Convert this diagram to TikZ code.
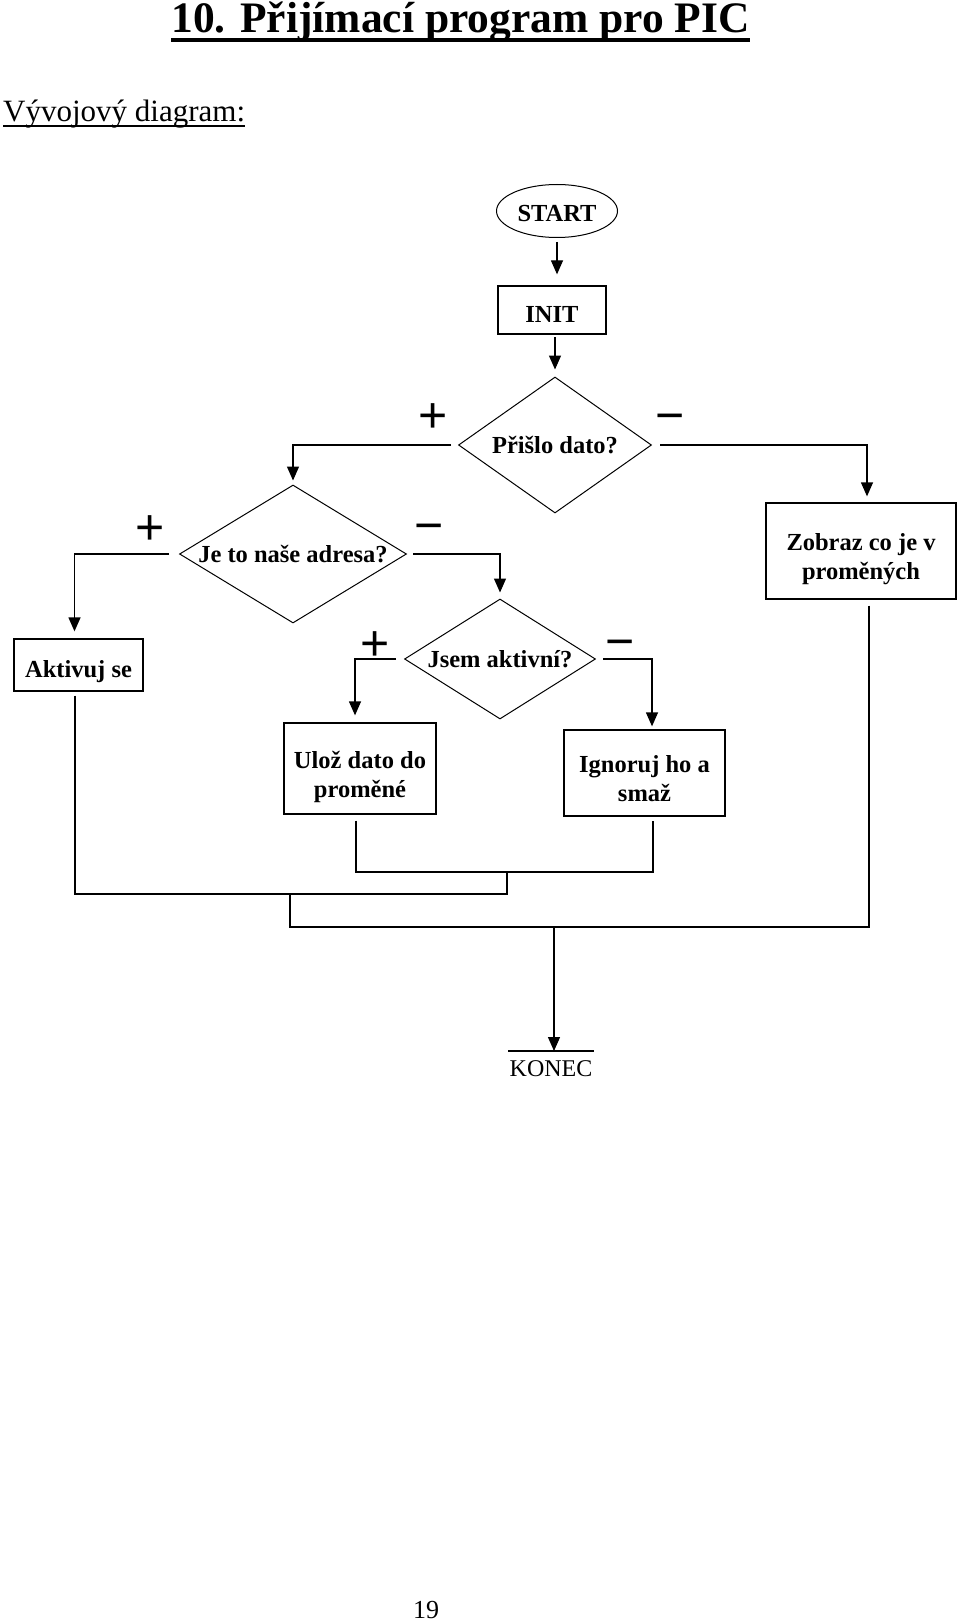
\documentclass[tikz,border=0pt]{standalone}
\usepackage{fontspec}
\setmainfont{Liberation Serif}
\newfontfamily\signfont{Liberation Sans}
\usetikzlibrary{shapes.geometric,arrows.meta}
\begin{document}
\begin{tikzpicture}[x=1pt,y=-1pt,
  conn/.style={line width=1.3pt},
  arr/.style={conn,-{Triangle[width=12pt,length=14pt]}},
  dfont/.style={font=\fontsize{24.5}{29}\selectfont\bfseries},
  box/.style={draw,line width=1.3pt,inner sep=0pt,align=center,dfont},
  one/.style={text height=28pt,text depth=4pt},
  two/.style={text height=57pt,text depth=0pt},
  dia/.style={draw,diamond,line width=1pt,inner sep=0pt,dfont},
  sign/.style={font=\signfont\fontsize{50}{50}\selectfont,inner sep=0pt}
]
\useasboundingbox (0,0) rectangle (960,1621);

% headings
\node[anchor=base,inner sep=0pt,font=\fontsize{43.5}{50}\selectfont\bfseries] (title) at (460.5,33) {10. Přijímací program pro PIC};
\draw[line width=3.5pt] ([yshift=-7pt]title.base west) -- ([yshift=-7pt]title.base east);
\node[anchor=base west,inner sep=0pt,font=\fontsize{31}{36}\selectfont] (sub) at (3,121.5) {Vývojový diagram:};
\draw[line width=1.6pt] ([yshift=-4.5pt]sub.base west) -- ([yshift=-4.5pt]sub.base east);
\node[anchor=base,inner sep=0pt,font=\fontsize{26}{30}\selectfont] (page) at (426,1618) {19};

% nodes
\node[draw,ellipse,line width=1pt,inner sep=0pt,minimum width=121pt,minimum height=53pt,dfont,text height=26pt,text depth=4pt] (start) at (557,211) {START};
\node[box,one,minimum width=108pt,minimum height=48pt] (init) at (552,310) {INIT};
\node[dia,aspect=1.42,minimum width=193pt,minimum height=136pt] (pr) at (555,445) {Přišlo dato?};
\node[dia,aspect=1.645,minimum width=227pt,minimum height=138pt] (je) at (293,554) {Je to naše adresa?};
\node[dia,aspect=1.59,minimum width=191pt,minimum height=120pt] (jsem) at (500,659) {Jsem aktivní?};
\node[box,one,minimum width=129pt,minimum height=52pt] (akt) at (78.5,665) {Aktivuj se};
\node[box,two,minimum width=190pt,minimum height=96pt] (zob) at (861,551) {Zobraz co je v\\proměných};
\node[box,two,minimum width=152pt,minimum height=91pt] (ulo) at (360,768.5) {Ulož dato do\\proměné};
\node[box,two,minimum width=161pt,minimum height=86pt] (ign) at (644.5,773) {Ignoruj ho a\\smaž};
\node[inner xsep=0pt,inner ysep=9pt,minimum width=85pt,font=\fontsize{24}{28}\selectfont,anchor=north] (konec) at (551,1051) {KONEC};
\draw[conn] (konec.north west) -- (konec.north east);

% signs
\node[sign] (p1) at (433,418.5) {+};
\node[sign] (m1) at (670,423) {−};
\node[sign] (p2) at (150,530.5) {+};
\node[sign] (m2) at (429,533) {−};
\node[sign] (p3) at (375,646) {+};
\node[sign] (m3) at (620,649) {−};

% connectors
\draw[arr,shorten <=4pt,shorten >=11pt] (start.south) -- (start.south |- init.north);
\draw[arr,shorten <=4pt,shorten >=7pt] (init.north -| pr.north) ++(0,48) -- (pr.north);
\draw[arr,shorten <=7pt,shorten >=4pt] (pr.west) -| (je.north);
\draw[arr,shorten <=8pt,shorten >=6pt] (pr.east) -| ([xshift=6pt]zob.north);
\draw[arr,shorten <=10pt,shorten >=7pt] (je.west) -| ([xshift=-4pt]akt.north);
\draw[arr,shorten <=6pt,shorten >=6pt] (je.east) -| (jsem.north);
\draw[arr,shorten <=8pt,shorten >=7pt] (jsem.west) -| ([xshift=-5pt]ulo.north);
\draw[arr,shorten <=7pt,shorten >=3pt] (jsem.east) -| ([xshift=7.5pt]ign.north);

% merging lines
\coordinate (j1) at (507,872);
\coordinate (j2) at (290,894);
\coordinate (j3) at (554,927);
\draw[conn,shorten <=6pt,shorten >=4pt] ([xshift=-4pt]ulo.south) |- (j1) -| ([xshift=8.5pt]ign.south);
\draw[conn,shorten <=4pt] ([xshift=-3.5pt]akt.south) |- (j1 |- j2) -- (j1);
\draw[conn,shorten <=6pt] ([xshift=8pt]zob.south) |- (j2 |- j3) -- (j2);
\draw[arr] (j3) -- (j3 |- konec.north);
\end{tikzpicture}
\end{document}
